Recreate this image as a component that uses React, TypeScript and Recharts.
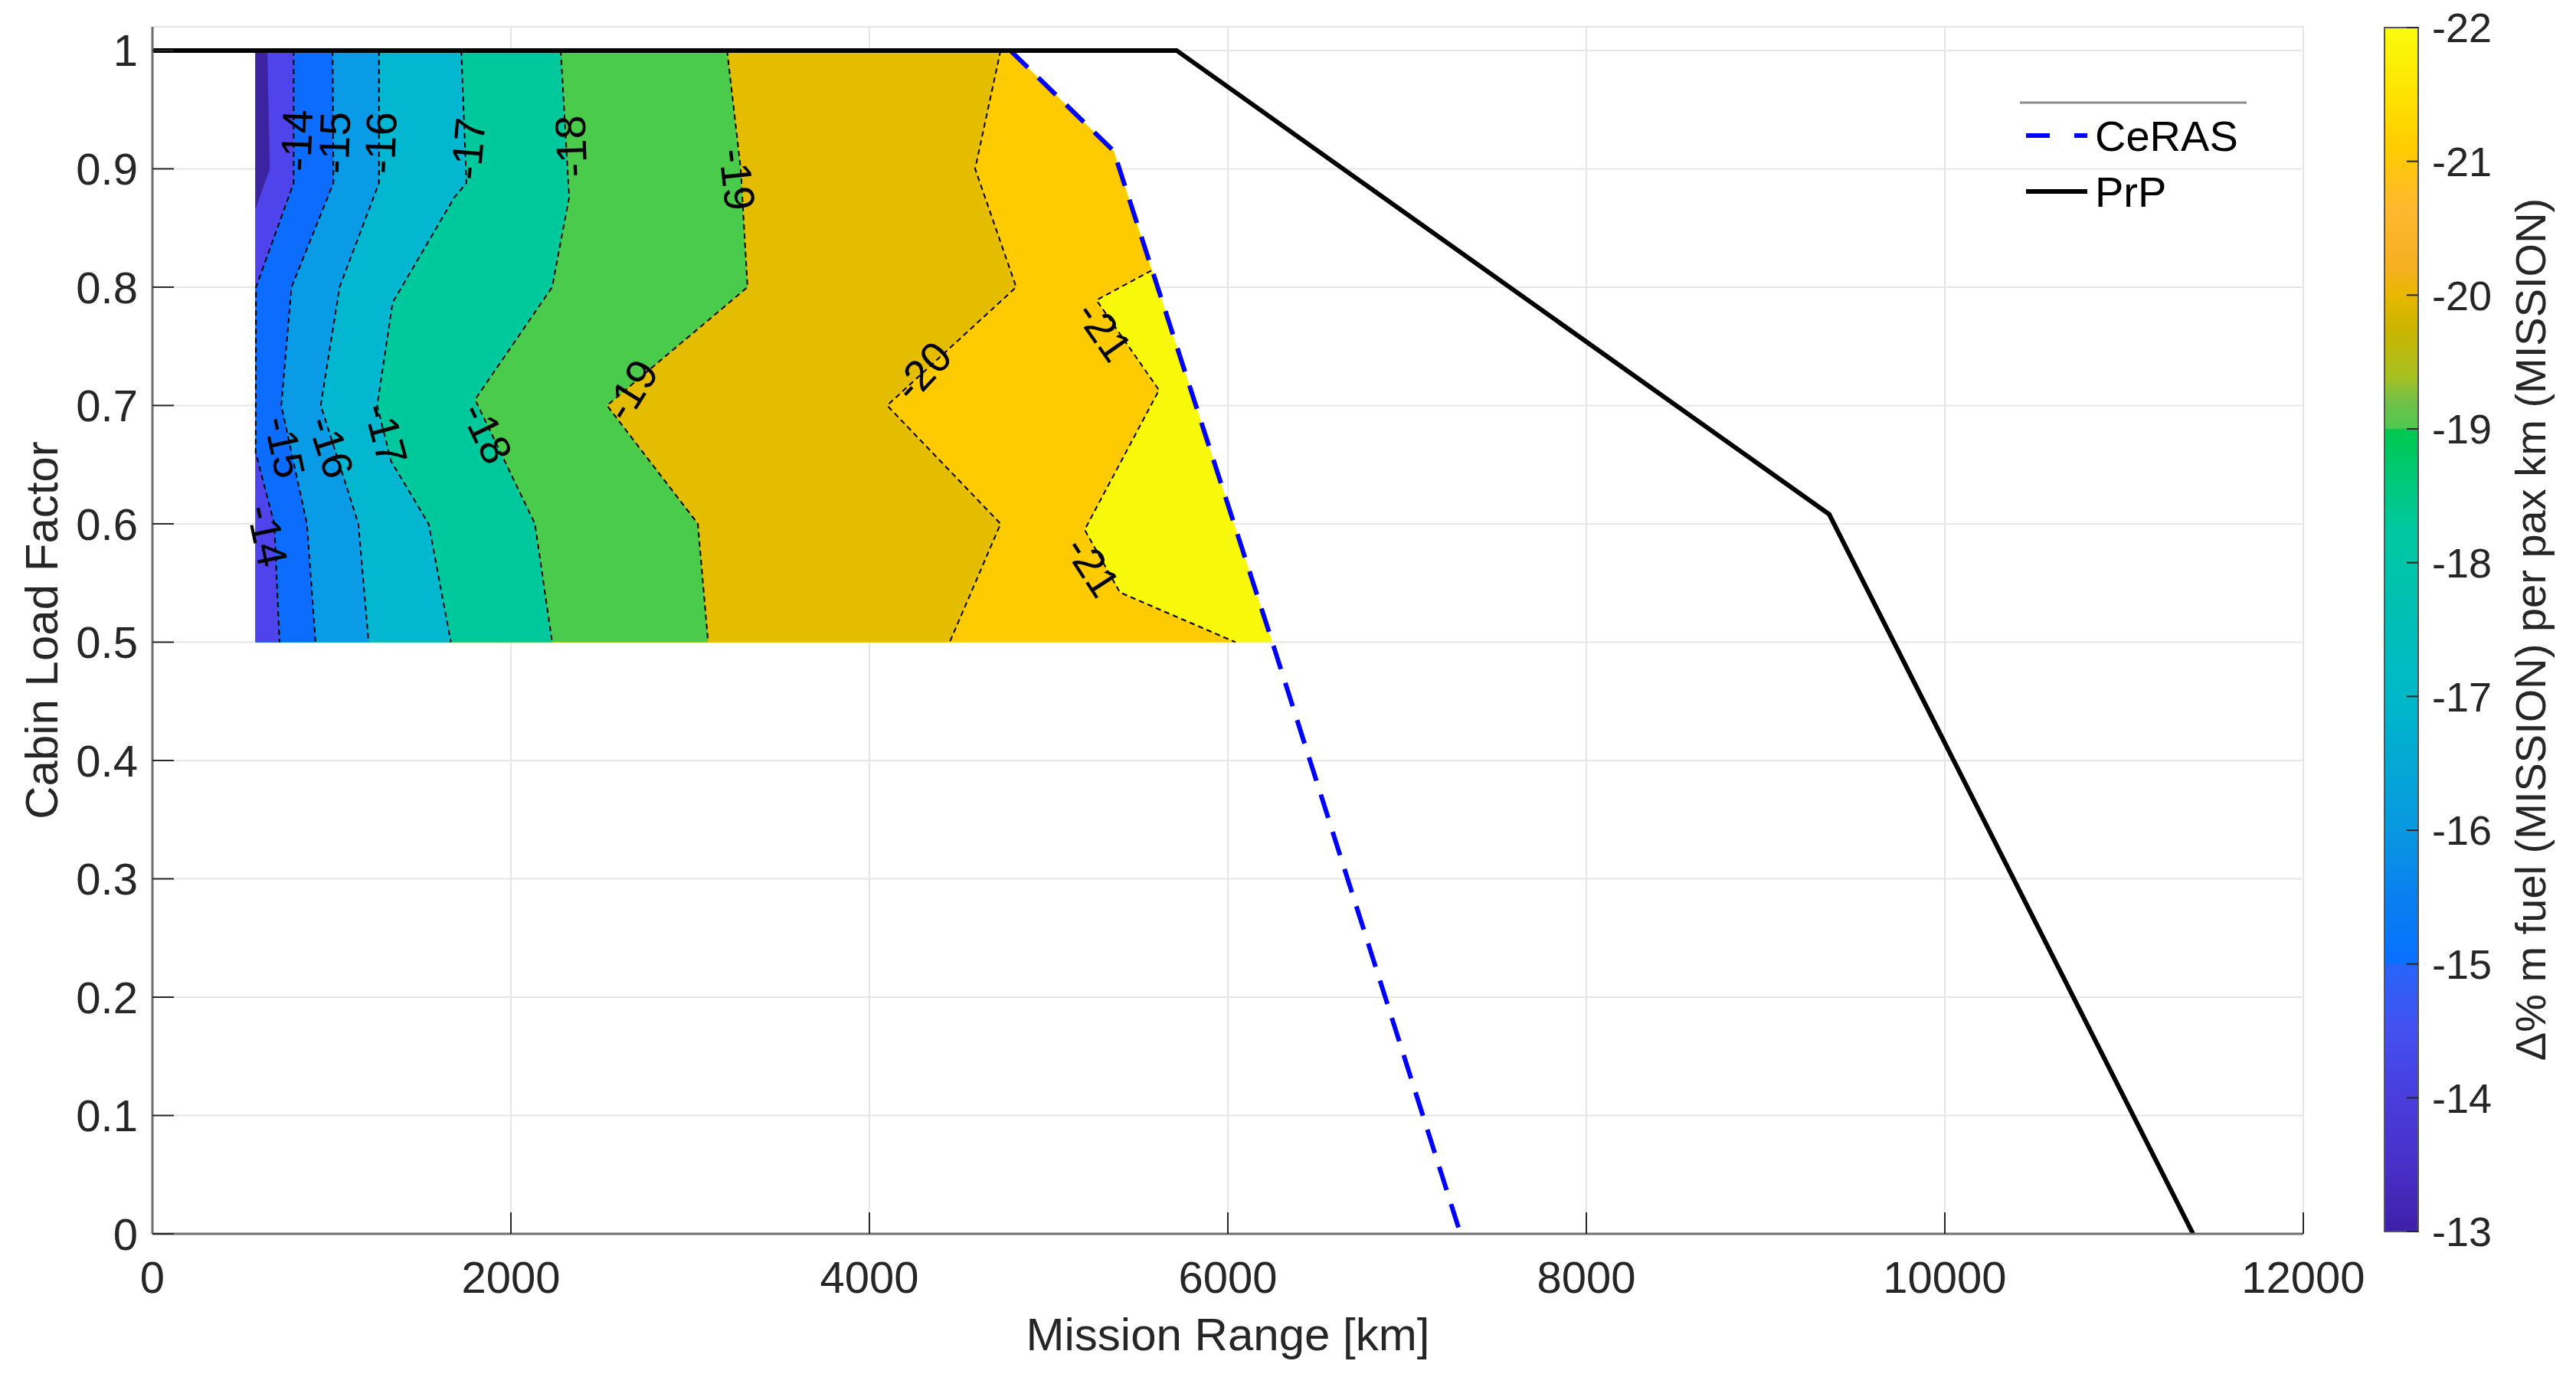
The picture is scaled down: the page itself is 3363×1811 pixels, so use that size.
import React from 'react';
import {
  ComposedChart,
  XAxis,
  YAxis,
  CartesianGrid,
  Area,
  Line,
  Scatter,
  Legend,
  Label,
  ReferenceArea,
} from 'recharts';

// axis ticks
const RANGE_TICKS = [0, 2000, 4000, 6000, 8000, 10000, 12000];
const LOAD_TICKS = [0, 0.1, 0.2, 0.3, 0.4, 0.5, 0.6, 0.7, 0.8, 0.9, 1];
const CBAR_TICKS = [-22, -21, -20, -19, -18, -17, -16, -15, -14, -13];

// shortest range of the sweep (left edge of the filled map), km
const LEFT_EDGE = 575;

// payload-range envelopes (x = range km, y = cabin load factor)
const CERAS = [
  { x: 4786, y: 1 },
  { x: 5363, y: 0.915 },
  { x: 6248, y: 0.5 },
  { x: 7298, y: 0 },
];
const PRP = [
  { x: 0, y: 1 },
  { x: 5714, y: 1 },
  { x: 9355, y: 0.608 },
  { x: 11385, y: 0 },
];

// contour lines of delta fuel per pax km
const C13 = [
  { x: 641, y: 1 },
  { x: 655, y: 0.9 },
  { x: 575, y: 0.866 },
  { x: 575, y: 0.5 },
];
const C14 = [
  { x: 788, y: 1 },
  { x: 788, y: 0.888 },
  { x: 578, y: 0.8 },
  { x: 576, y: 0.66 },
  { x: 680, y: 0.6 },
  { x: 709, y: 0.5 },
];
const C15 = [
  { x: 1005, y: 1 },
  { x: 1010, y: 0.888 },
  { x: 776, y: 0.8 },
  { x: 719, y: 0.7 },
  { x: 862, y: 0.6 },
  { x: 910, y: 0.5 },
];
const C16 = [
  { x: 1264, y: 1 },
  { x: 1264, y: 0.888 },
  { x: 1044, y: 0.8 },
  { x: 939, y: 0.7 },
  { x: 1149, y: 0.6 },
  { x: 1206, y: 0.5 },
];
const C17 = [
  { x: 1723, y: 1 },
  { x: 1752, y: 0.888 },
  { x: 1685, y: 0.876 },
  { x: 1340, y: 0.787 },
  { x: 1254, y: 0.7 },
  { x: 1331, y: 0.653 },
  { x: 1541, y: 0.6 },
  { x: 1665, y: 0.5 },
];
const C18 = [
  { x: 2278, y: 1 },
  { x: 2325, y: 0.876 },
  { x: 2230, y: 0.8 },
  { x: 1800, y: 0.705 },
  { x: 2134, y: 0.6 },
  { x: 2230, y: 0.5 },
];
const C19 = [
  { x: 3206, y: 1 },
  { x: 3282, y: 0.9 },
  { x: 3320, y: 0.8 },
  { x: 2536, y: 0.7 },
  { x: 3043, y: 0.6 },
  { x: 3100, y: 0.5 },
];
const C20 = [
  { x: 4732, y: 1 },
  { x: 4590, y: 0.9 },
  { x: 4819, y: 0.8 },
  { x: 4099, y: 0.7 },
  { x: 4732, y: 0.6 },
  { x: 4448, y: 0.5 },
];
const C21 = [
  { x: 5573, y: 0.814 },
  { x: 5267, y: 0.789 },
  { x: 5616, y: 0.713 },
  { x: 5201, y: 0.595 },
  { x: 5398, y: 0.542 },
  { x: 6042, y: 0.5 },
];

const CONTOUR_LABELS = [
  { text: '-14', x: 805, y: 0.924, angle: -88 },
  { text: '-15', x: 1015, y: 0.922, angle: -88 },
  { text: '-16', x: 1273, y: 0.922, angle: -88 },
  { text: '-17', x: 1761, y: 0.917, angle: -85 },
  { text: '-18', x: 2335, y: 0.919, angle: -92 },
  { text: '-19', x: 3263, y: 0.891, angle: 84 },
  { text: '-14', x: 642, y: 0.59, angle: 78 },
  { text: '-15', x: 738, y: 0.665, angle: 78 },
  { text: '-16', x: 996, y: 0.665, angle: 72 },
  { text: '-17', x: 1302, y: 0.676, angle: 75 },
  { text: '-18', x: 1866, y: 0.677, angle: 64 },
  { text: '-19', x: 2670, y: 0.713, angle: -58 },
  { text: '-20', x: 4295, y: 0.729, angle: -47 },
  { text: '-21', x: 5310, y: 0.763, angle: 55 },
  { text: '-21', x: 5245, y: 0.564, angle: 57 },
];

// filled regions: drawn right to left, each fills from the left edge to its boundary
const EDGE = CERAS.filter((p) => p.y >= 0.5);
const C21_FILL = [...CERAS.filter((p) => p.y > 0.814), ...C21];
const FILL_BOUNDARIES = [EDGE, C21_FILL, C20, C19, C18, C17, C16, C15, C14, C13];
const FILL_COLORS = [
  '#f8f80a',
  '#fdcb00',
  '#e4bc00',
  '#4bcb4c',
  '#00c89d',
  '#02b7cf',
  '#0a9be6',
  '#0b6cfe',
  '#4f44ec',
  '#3c23a0',
];
const CONTOUR_LINES = [C14, C15, C16, C17, C18, C19, C20, C21];

const PARULA = [
  [-22, '#f9fb0e'],
  [-21.45, '#ffe000'],
  [-21.1, '#ffcc00'],
  [-20.65, '#fdb830'],
  [-20.2, '#f5b020'],
  [-20, '#e8b800'],
  [-19.75, '#ccb400'],
  [-19.4, '#a8c020'],
  [-19.2, '#70c048'],
  [-19.01, '#50c850'],
  [-18.99, '#00c850'],
  [-18.25, '#00c8a0'],
  [-17, '#00b8c8'],
  [-16, '#0898e0'],
  [-15.5, '#0880f0'],
  [-15.01, '#0870ff'],
  [-14.99, '#2864f8'],
  [-14.5, '#4450f0'],
  [-14.1, '#4840e0'],
  [-13.5, '#4830c8'],
  [-13, '#3e20a8'],
];

const FONT = '"Liberation Sans", Arial, Helvetica, sans-serif';
const INK = '#262626';

const fillKey = (d: { x: number }) => [LEFT_EDGE, Math.max(LEFT_EDGE, d.x)];
const cbarData = CBAR_TICKS.map((v) => ({ pos: 0.5, level: v }));

function ContourLabel(props: any) {
  const { cx, cy, payload } = props;
  if (cx == null || cy == null) return null;
  return (
    <text
      x={cx}
      y={cy}
      transform={`rotate(${payload.angle} ${cx} ${cy})`}
      textAnchor="middle"
      dominantBaseline="central"
      fontSize={56}
      fill="#000"
    >
      {payload.text}
    </text>
  );
}

const NoShape = () => <g />;

function LegendBox(props: any) {
  const items = (props.payload || []).filter((p: any) => p.type !== 'none');
  return (
    <svg width={310} height={160} style={{ display: 'block' }}>
      <line x1={7} y1={14} x2={303} y2={14} stroke="#8c8c8c" strokeWidth={3} />
      {items.map((it: any, i: number) => {
        const cy = 57 + i * 73;
        const dashed = it.payload && it.payload.strokeDasharray;
        return (
          <g key={it.value}>
            <line
              x1={15}
              x2={95}
              y1={cy}
              y2={cy}
              stroke={it.color}
              strokeWidth={6}
              strokeDasharray={dashed ? '31 32' : undefined}
            />
            <text x={105} y={cy} dominantBaseline="central" fontSize={56} fill="#000">
              {it.value}
            </text>
          </g>
        );
      })}
    </svg>
  );
}

export default function App() {
  return (
    <div
      style={{
        position: 'absolute',
        left: 0,
        top: 0,
        width: 3363,
        height: 1811,
        overflow: 'hidden',
        background: '#fff',
        fontFamily: FONT,
      }}
    >
      <div style={{ position: 'absolute', left: 0, top: 0 }}>
        <ComposedChart
          layout="vertical"
          width={3100}
          height={1811}
          margin={{ top: 35, right: 93, bottom: 0, left: 0 }}
        >
          <CartesianGrid stroke="#e6e6e6" strokeWidth={2} />
          <XAxis
            type="number"
            domain={[0, 12000]}
            ticks={RANGE_TICKS}
            interval={0}
            allowDataOverflow
            height={200}
            tickSize={-28}
            tickMargin={64}
            tick={{ fill: INK, fontSize: 58 }}
            tickLine={{ stroke: INK, strokeWidth: 2 }}
            axisLine={{ stroke: '#6e6e6e', strokeWidth: 3 }}
          >
            <Label
              value="Mission Range [km]"
              position="insideBottom"
              offset={48}
              style={{ fontSize: 60, fill: INK }}
            />
          </XAxis>
          <YAxis
            type="number"
            dataKey="y"
            domain={[0, 1.02]}
            reversed
            ticks={LOAD_TICKS}
            interval={0}
            allowDataOverflow
            width={199}
            tickSize={-28}
            tickMargin={47}
            tick={{ fill: INK, fontSize: 58 }}
            tickLine={{ stroke: INK, strokeWidth: 2 }}
            axisLine={{ stroke: '#6e6e6e', strokeWidth: 3 }}
          >
            <Label
              value="Cabin Load Factor"
              angle={-90}
              position="insideLeft"
              offset={54}
              style={{ textAnchor: 'middle', fontSize: 60, fill: INK }}
            />
          </YAxis>

          {FILL_BOUNDARIES.map((b, i) => (
            <Area
              key={'fill' + i}
              data={b}
              dataKey={fillKey}
              type="linear"
              stroke="none"
              fill={FILL_COLORS[i]}
              fillOpacity={1}
              dot={false}
              activeDot={false}
              legendType="none"
              isAnimationActive={false}
            />
          ))}

          {CONTOUR_LINES.map((c, i) => (
            <Line
              key={'iso' + i}
              data={c}
              dataKey="x"
              type="linear"
              stroke="#000"
              strokeWidth={2}
              strokeDasharray="7 5"
              dot={false}
              activeDot={false}
              legendType="none"
              isAnimationActive={false}
            />
          ))}

          <Scatter
            data={CONTOUR_LABELS}
            dataKey="x"
            shape={ContourLabel}
            legendType="none"
            isAnimationActive={false}
          />

          <Line
            name="CeRAS"
            data={CERAS}
            dataKey="x"
            type="linear"
            stroke="#0000ff"
            strokeWidth={6}
            strokeDasharray="32 19"
            dot={false}
            activeDot={false}
            isAnimationActive={false}
          />
          <Line
            name="PrP"
            data={PRP}
            dataKey="x"
            type="linear"
            stroke="#000"
            strokeWidth={6}
            dot={false}
            activeDot={false}
            isAnimationActive={false}
          />

          <Legend
            content={LegendBox}
            layout="horizontal"
            verticalAlign="middle"
            align="center"
            wrapperStyle={{ left: 2630, top: 120, width: 310, height: 160 }}
          />
        </ComposedChart>
      </div>

      <div style={{ position: 'absolute', left: 3080, top: 0 }}>
        <ComposedChart
          width={400}
          height={1811}
          data={cbarData}
          margin={{ top: 36, right: 173, bottom: 203, left: 33 }}
        >
          <defs>
            <linearGradient id="parula" x1="0" y1="0" x2="0" y2="1">
              {PARULA.map(([v, c]) => (
                <stop key={String(v)} offset={((v as number) + 22) / 9} stopColor={c as string} />
              ))}
            </linearGradient>
          </defs>
          <XAxis type="number" dataKey="pos" domain={[0, 1]} allowDataOverflow hide />
          <ReferenceArea
            x1={0}
            x2={1}
            y1={-22}
            y2={-13}
            fill="url(#parula)"
            fillOpacity={1}
            stroke="#555"
            strokeWidth={2}
            ifOverflow="visible"
          />
          <Scatter dataKey="level" shape={NoShape} legendType="none" isAnimationActive={false} />
          <YAxis
            type="number"
            dataKey="level"
            orientation="right"
            domain={[-22, -13]}
            allowDataOverflow
            reversed
            ticks={CBAR_TICKS}
            interval={0}
            width={150}
            tickSize={-15}
            tickMargin={33}
            axisLine={false}
            tick={{ fill: INK, fontSize: 54 }}
            tickLine={{ stroke: INK, strokeWidth: 2 }}
          >
            <Label
              value="Δ% m fuel (MISSION) per pax km (MISSION)"
              angle={-90}
              position="insideRight"
              offset={4}
              style={{ textAnchor: 'middle', fontSize: 56, fill: INK }}
            />
          </YAxis>
        </ComposedChart>
      </div>
    </div>
  );
}
